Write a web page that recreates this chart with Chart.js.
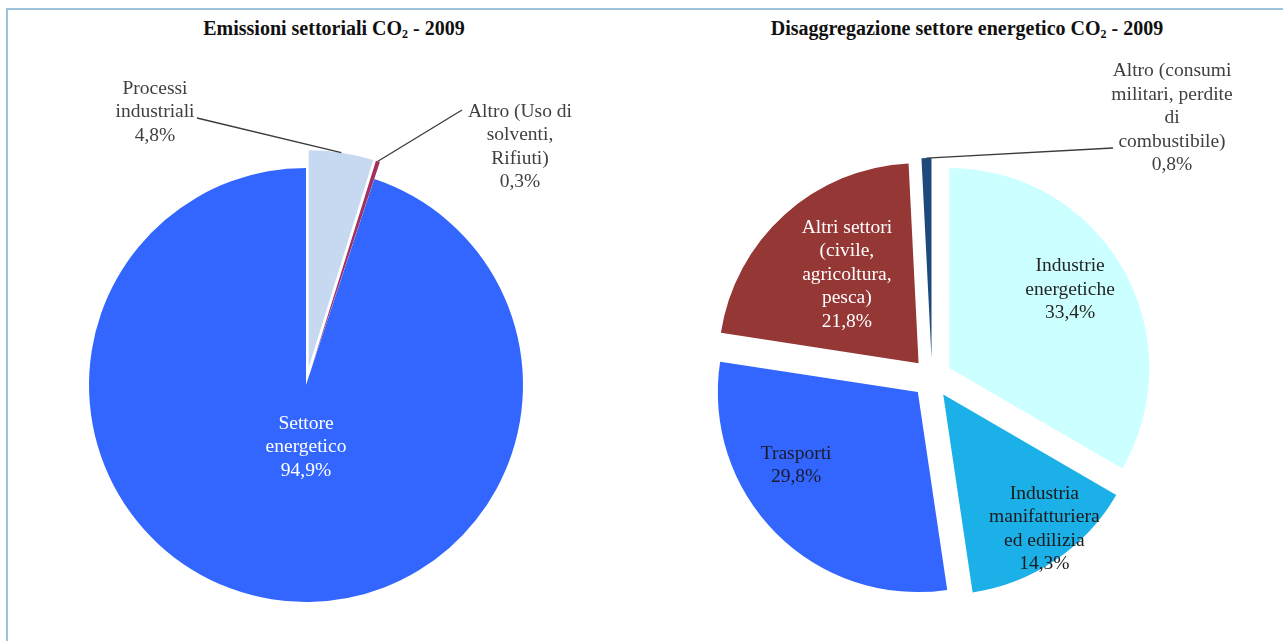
<!DOCTYPE html>
<html>
<head>
<meta charset="utf-8">
<script src="https://cdn.jsdelivr.net/npm/chart.js@4.4.0/dist/chart.umd.min.js"></script>
<style>
  body { margin: 0; background: #fff; width: 1283px; height: 641px; overflow: hidden; position: relative; }
  .frame { position: absolute; left: 6px; top: 8px; width: 1290px; height: 700px; border-top: 2px solid #9dc3dc; border-left: 2px solid #9dc3dc; }
  canvas { position: absolute; top: 0; }
  .title { position: absolute; top: 17px; line-height: 24px; font: bold 20px "Liberation Serif", serif; color: #111; white-space: nowrap; transform: translateX(-50%); }
  .title sub { font-size: 12px; vertical-align: -3px; line-height: 0; }
</style>
</head>
<body>
<div class="frame"></div>
<div class="title" style="left:334px">Emissioni settoriali CO<sub>2</sub> - 2009</div>
<div class="title" style="left:967px">Disaggregazione settore energetico CO<sub>2</sub> - 2009</div>
<canvas id="left" width="612" height="641" style="left:0"></canvas>
<canvas id="right" width="640" height="641" style="left:612px"></canvas>
<script>
// Emissioni settoriali CO2 - 2009
const sectorLabels = ["Processi industriali", "Altro (Uso di solventi, Rifiuti)", "Settore energetico"];
const sectorValues = [4.8, 0.3, 94.9];
const sectorColors = ["#c6d9f1", "#a3305e", "#3366ff"];

// Disaggregazione settore energetico CO2 - 2009
const energyLabels = ["Industrie energetiche", "Industria manifatturiera ed edilizia", "Trasporti",
  "Altri settori (civile, agricoltura, pesca)", "Altro (consumi militari, perdite di combustibile)"];
const energyValues = [33.4, 14.3, 29.8, 21.8, 0.8];
const energyColors = ["#ccffff", "#1cb0e8", "#3366ff", "#953735", "#1f497d"];

// how the label text wraps
const sectorLines = [["Processi", "industriali"], ["Altro (Uso di", "solventi,", "Rifiuti)"], ["Settore", "energetico"]];
const energyLines = [["Industrie", "energetiche"], ["Industria", "manifatturiera", "ed edilizia"], ["Trasporti"],
  ["Altri settori", "(civile,", "agricoltura,", "pesca)"], ["Altro (consumi", "militari, perdite", "di", "combustibile)"]];

const fmt = v => v.toFixed(1).replace(".", ",") + "%";

// exploded slices: move the whole arc along its middle angle
const Arc = Chart.registry.getElement("arc");
const baseDraw = Arc.prototype.draw;
Arc.prototype.draw = function (ctx) {
  const c = this.$context;
  const ex = c && c.dataset.explode ? c.dataset.explode[c.dataIndex] || 0 : 0;
  const half = (this.startAngle + this.endAngle) / 2;
  ctx.save();
  ctx.translate(Math.cos(half) * ex, Math.sin(half) * ex);
  baseDraw.call(this, ctx);
  ctx.restore();
};

const pieLabels = {
  id: "pieLabels",
  afterDatasetsDraw(chart, args, opts) {
    const ctx = chart.ctx;
    const ds = chart.data.datasets[0];
    const meta = chart.getDatasetMeta(0);
    ctx.save();
    ctx.font = '19.5px "Liberation Serif", serif';
    ctx.textAlign = "center";
    ctx.textBaseline = "middle";
    meta.data.forEach((arc, i) => {
      const p = opts.place[i];
      const mid = (arc.startAngle + arc.endAngle) / 2;
      const ex = ds.explode[i] || 0;
      const vx = arc.x + Math.cos(mid) * ex, vy = arc.y + Math.sin(mid) * ex;
      const lines = opts.lines[i].concat(fmt(ds.data[i]));
      let cx, cy;
      if (p.out) {
        cx = arc.x + p.dx; cy = arc.y + p.dy;
        ctx.strokeStyle = "#3a3a3a";
        ctx.lineWidth = 1.3;
        ctx.beginPath();
        ctx.moveTo(arc.x + p.lead[0], arc.y + p.lead[1]);
        ctx.lineTo(vx + Math.cos(mid) * arc.outerRadius, vy + Math.sin(mid) * arc.outerRadius);
        ctx.stroke();
      } else {
        const a = (p.ang - 90) * Math.PI / 180;
        cx = vx + Math.cos(a) * p.dist; cy = vy + Math.sin(a) * p.dist;
      }
      ctx.fillStyle = p.color;
      lines.forEach((t, k) => ctx.fillText(t, cx, cy + (k - (lines.length - 1) / 2) * 23.5));
    });
    ctx.restore();
  }
};

function makePie(id, labels, values, colors, explode, radius, padding, lines, place) {
  return new Chart(document.getElementById(id), {
    type: "pie",
    data: {
      labels: labels,
      datasets: [{
        data: values,
        backgroundColor: colors,
        borderWidth: 0,
        explode: explode
      }]
    },
    options: {
      responsive: false,
      animation: false,
      radius: radius,
      layout: { padding: padding },
      events: [],
      plugins: {
        legend: { display: false },
        tooltip: { enabled: false },
        pieLabels: { lines: lines, place: place }
      }
    },
    plugins: [pieLabels]
  });
}

makePie("left", sectorLabels, sectorValues, sectorColors, [18, 18, 0], 217,
  { top: 140, bottom: 11, left: 0, right: 0 }, sectorLines, [
    { out: true, dx: -151, dy: -273, lead: [-109, -267], color: "#404040" },
    { out: true, dx: 214, dy: -238, lead: [156, -275], color: "#404040" },
    { ang: 180, dist: 62, color: "#ffffff" }
  ]);

makePie("right", energyLabels, energyValues, energyColors, [20, 20, 20, 20, 20], 200,
  { top: 133, bottom: 18, left: 0, right: 0 }, energyLines, [
    { ang: 57, dist: 144, color: "#262626" },
    { ang: 143, dist: 168, color: "#1a1a1a" },
    { ang: 239, dist: 142, color: "#1a1a2a" },
    { ang: 321, dist: 114, color: "#ffffff" },
    { out: true, dx: 240, dy: -260, lead: [181, -230], color: "#404040" }
  ]);
</script>
</body>
</html>
